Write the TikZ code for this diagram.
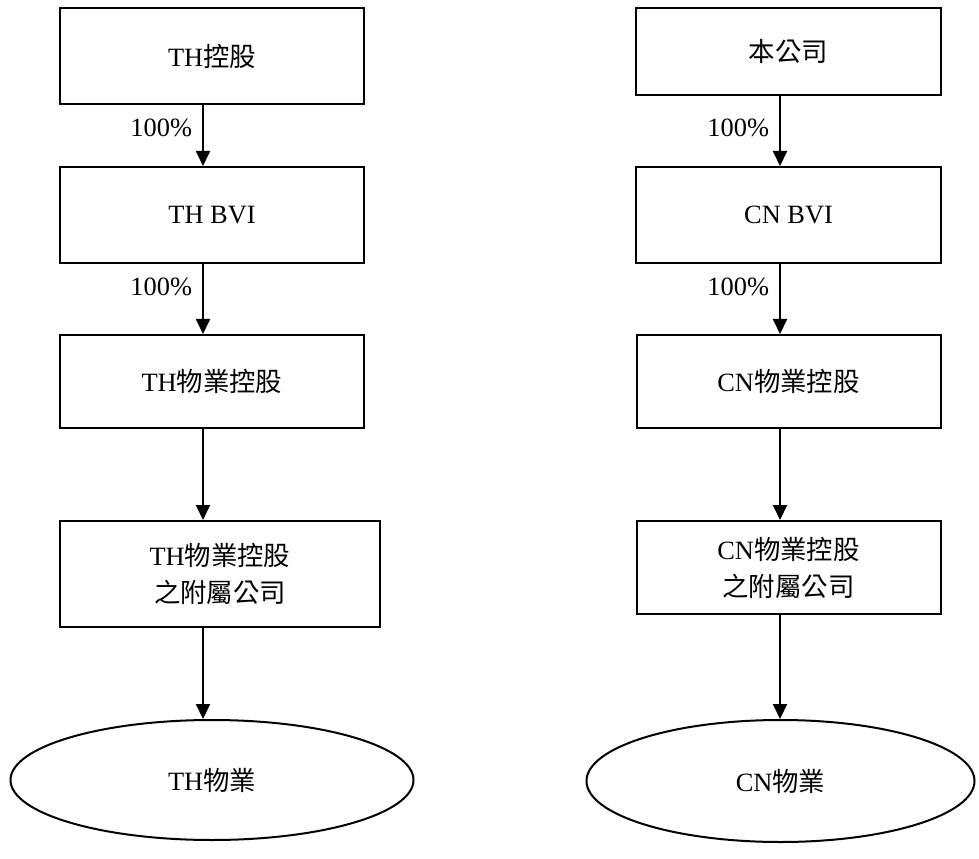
\documentclass[tikz,border=0pt]{standalone}
\usepackage{fontspec}
\setmainfont{Liberation Serif}
\newfontfamily\cjk{Noto Sans CJK TC}
\usetikzlibrary{arrows.meta, positioning, shapes.geometric}

\tikzset{
  box/.style={draw, line width=1pt, minimum width=152pt, minimum height=48pt, inner sep=0pt, align=center},
  prop/.style={draw, ellipse, line width=1pt, minimum width=201.5pt, minimum height=60pt, inner sep=0pt},
  pct/.style={anchor=east, xshift=-5pt, inner sep=0pt},
}

\begin{document}
\begin{tikzpicture}[x=0.5pt, y=0.5pt, on grid, font=\fontsize{13.2pt}{18.5pt}\selectfont,
    >={Triangle[width=7pt,length=7.5pt]}]
        \useasboundingbox (0,0) rectangle (979,858);

        % TH side
        \node[box] (th1) at (212,802) {TH{\cjk 控股}};
        \node[box] (th2) [below=79.5pt of th1] {TH BVI};
        \node[box, minimum height=46.5pt] (th3) [below=83.25pt of th2] {TH{\cjk 物業控股}};
        \node[box, minimum width=160pt, minimum height=53pt] (th4) [below=96.25pt of th3, xshift=4pt] {TH{\cjk 物業控股}\\{\cjk 之附屬公司}};
        \node[prop] (th5) [below=103pt of th4, xshift=-4pt] {TH{\cjk 物業}};

        % CN side
        \node[box, minimum width=152.5pt, minimum height=43.5pt] (cn1) at (788.5,806.5) {{\cjk 本公司}};
        \node[box, minimum width=152.5pt] (cn2) [below=81.75pt of cn1] {CN BVI};
        \node[box, minimum height=46.5pt] (cn3) [below=83.25pt of cn2] {CN{\cjk 物業控股}};
        \node[box, minimum height=46.5pt] (cn4) [below=93pt of cn3] {CN{\cjk 物業控股}\\{\cjk 之附屬公司}};
        \node[prop, minimum width=194pt, minimum height=61pt] (cn5) [below=106.75pt of cn4, xshift=-4pt] {CN{\cjk 物業}};

        \coordinate (ls) at (203,0);
        \coordinate (rs) at (780,0);

        \begin{scope}[->, line width=1pt]
        \draw (th1.south -| ls) -- node[pct, pos=.38] {100\%} (th2.north -| ls);
        \draw (th2.south -| ls) -- node[pct, pos=.33] {100\%} (th3.north -| ls);
        \draw (th3.south -| ls) -- (th4.north -| ls);
        \draw (th4.south -| ls) -- (th5.north -| ls);

        \draw (cn1.south -| rs) -- node[pct, pos=.46] {100\%} (cn2.north -| rs);
        \draw (cn2.south -| rs) -- node[pct, pos=.33] {100\%} (cn3.north -| rs);
        \draw (cn3.south -| rs) -- (cn4.north -| rs);
        \draw (cn4.south -| rs) -- (cn5.north -| rs);
        \end{scope}
    \end{tikzpicture}
\end{document}
